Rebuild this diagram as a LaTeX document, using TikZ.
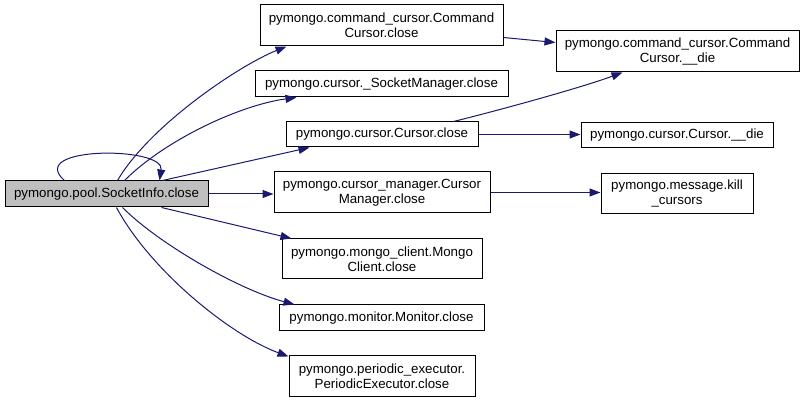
\documentclass[tikz,border=0pt]{standalone}
\usepackage{fontspec}
\setmainfont{Liberation Sans}
\usetikzlibrary{arrows.meta,calc}
\definecolor{edgeblue}{HTML}{191970}
\definecolor{rootgray}{HTML}{BFBFBF}
\tikzset{
  fnbox/.style 2 args={draw=black, line width=1pt, fill=white, inner sep=0pt,
    minimum width=#1pt, minimum height=#2pt, align=center,
    font=\fontsize{13.3}{15}\selectfont},
  rootbox/.style={fill=rootgray},
  call/.style={draw=edgeblue, line width=1pt, -{Triangle[length=11pt,width=8pt]}}
}
\begin{document}
\begin{tikzpicture}[x=1pt,y=-1pt]
\useasboundingbox (0,0) rectangle (804,403);
\node[fnbox={203}{26},rootbox] (root) at (106.5,194) {pymongo.pool.SocketInfo.close};
\node[fnbox={243}{41}] (ccclose) at (381.5,25.5) {pymongo.command\_cursor.Command\\Cursor.close};
\node[fnbox={253}{26}] (sm) at (381.5,84) {pymongo.cursor.\_SocketManager.close};
\node[fnbox={192}{25}] (cclose) at (382,134.5) {pymongo.cursor.Cursor.close};
\node[fnbox={243}{41}] (ccdie) at (677.5,51.5) {pymongo.command\_cursor.Command\\Cursor.\_\_die};
\node[fnbox={192}{25}] (cdie) at (677,135.5) {pymongo.cursor.Cursor.\_\_die};
\node[fnbox={152}{40}] (kill) at (677,194) {pymongo.message.kill\\\_cursors};
\node[fnbox={216}{41}] (cm) at (382,192.5) {pymongo.cursor\_manager.Cursor\\Manager.close};
\node[fnbox={200}{40}] (mc) at (382,259) {pymongo.mongo\_client.Mongo\\Client.close};
\node[fnbox={205}{26}] (mon) at (381.5,318) {pymongo.monitor.Monitor.close};
\node[fnbox={186}{41}] (pe) at (382,376.5) {pymongo.periodic\_executor.\\PeriodicExecutor.close};

% self loop
\draw[call] ($(root.north west)+(60,0)$) .. controls (25,146) and (165,146) .. ($(root.north west)+(155,0)$);
% from root
\draw[call] ($(root.north west)+(113,0)$) .. controls (150,125) and (240,65) .. ($(ccclose.south west)+(27,0)$);
\draw[call] ($(root.north west)+(120,0)$) .. controls (165,140) and (240,105) .. ($(sm.south west)+(42,0)$);
\draw[call] ($(root.north west)+(158,0)$) -- ($(cclose.south west)+(24,0)$);
\draw[call] (root.east) -- (cm.west |- root.east);
\draw[call] ($(root.south west)+(157,0)$) -- ($(mc.north west)+(10,0)$);
\draw[call] ($(root.south west)+(118,0)$) .. controls (160,245) and (240,290) .. ($(mon.north west)+(16,0)$);
\draw[call] ($(root.south west)+(112,0)$) .. controls (150,270) and (230,335) .. ($(pe.north west)+(0,1)$);
% second level
\draw[call] ($(ccclose.east)+(0,12)$) -- ($(ccdie.west)+(0,-9)$);
\draw[call] ($(cclose.north east)+(-25,0)$) .. controls (500,110) and (580,88) .. ($(ccdie.south west)+(67,0)$);
\draw[call] (cclose.east) -- (cdie.west |- cclose.east);
\draw[call] (cm.east) -- (kill.west |- cm.east);
\end{tikzpicture}
\end{document}
